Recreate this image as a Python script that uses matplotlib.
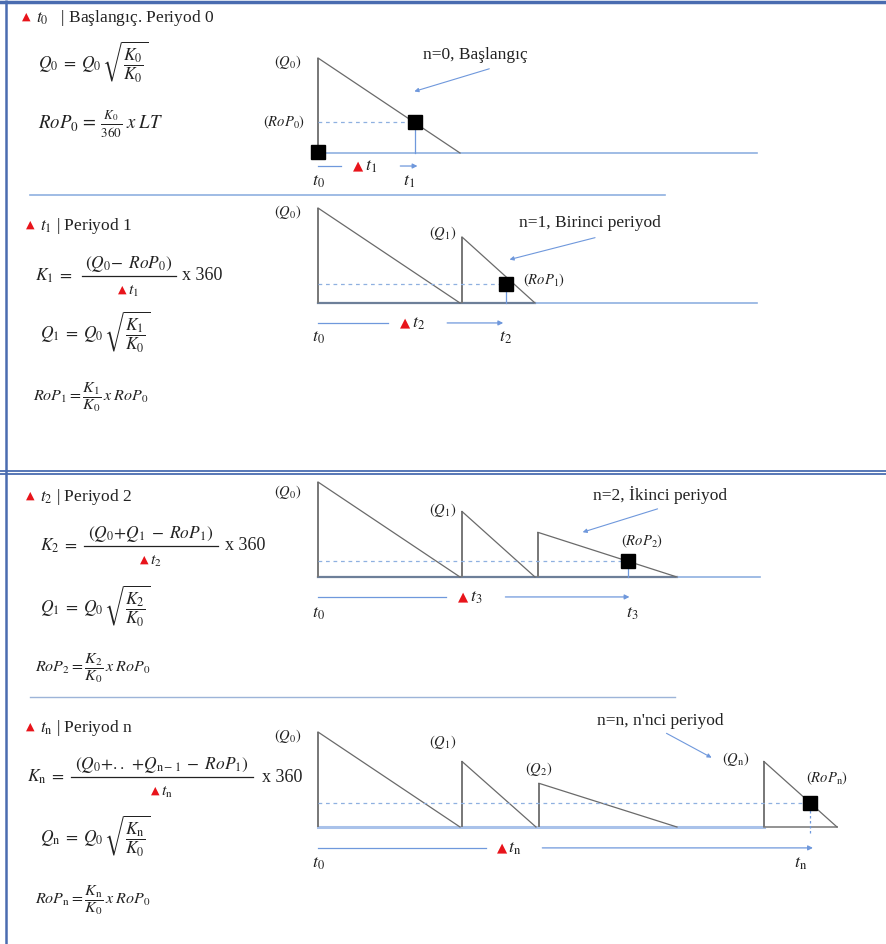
import matplotlib
matplotlib.use('Agg')
import matplotlib.pyplot as plt

plt.rcParams['mathtext.fontset'] = 'stix'
plt.rcParams['font.family'] = ['Liberation Serif', 'DejaVu Sans']

# ---------------- data (inventory units: Q0 = 100, abstract time units) ----------------
# Panel 0 : start
p0_starts = [0]
p0_peaks = [100]
p0_ends = [100]
p0_rop = 32.6
p0_t = 68.3
p0_base_end = 309

# Panel 1
p1_starts = [0, 101.4]
p1_peaks = [100, 69.5]
p1_ends = [100, 152.8]
p1_rop = 20
p1_t = 132.4
p1_base_end = 309

# Panel 2
p2_starts = [0, 101.4, 154.9]
p2_peaks = [100, 69, 47]
p2_ends = [100, 152.8, 252.8]
p2_rop = 16.8
p2_t = 218.3
p2_base_end = 311

# Panel n
pn_starts = [0, 101.4, 155.6, 314]
pn_peaks = [100, 69, 46, 69]
pn_ends = [100, 153.5, 252.8, 365.5]
pn_rop = 25
pn_t = 346.5
pn_base_end = 365.5

peak_labels_1 = [r'$(Q_0)$', r'$(Q_1)$']
peak_labels_2 = [r'$(Q_0)$', r'$(Q_1)$', None]
peak_labels_n = [r'$(Q_0)$', r'$(Q_1)$', r'$(Q_2)$', r'$(Q_\mathrm{n})$']

notes = ['n=0, Başlangıç', 'n=1, Birinci periyod', 'n=2, İkinci periyod', "n=n, n'nci periyod"]
titles = [r'$t_0$   | Başlangıç. Periyod 0', r'$t_1$ | Periyod 1', r'$t_2$ | Periyod 2',
          r'$t_\mathrm{n}$ | Periyod n']
end_labels = [r'$t_1$', r'$t_2$', r'$t_3$', r'$t_\mathrm{n}$']
mid_labels = [r'$t_1$', r'$t_2$', r'$t_3$', r'$t_\mathrm{n}$']
rop_labels = [r'$(RoP_0)$', r'$(RoP_1)$', r'$(RoP_2)$', r'$(RoP_\mathrm{n})$']

# ---------------- figure ----------------
W, H = 886, 944
fig = plt.figure(figsize=(W / 100, H / 100), dpi=100)
bg = fig.add_axes([0, 0, 1, 1])
bg.set_xlim(0, W)
bg.set_ylim(H, 0)
bg.axis('off')

BORDER = '#4a6cb0'
LBLUE = '#6f98dc'
GRAY = '#6a6a6a'

# borders
bg.plot([6, 6], [0, H], color=BORDER, lw=1.8, solid_capstyle='butt')
bg.plot([0, W], [2, 2], color=BORDER, lw=2.5)
bg.plot([0, W], [471, 471], color=BORDER, lw=1.3)
bg.plot([0, W], [474, 474], color=BORDER, lw=1.3)
bg.plot([30, 665], [195, 195], color='#8fb0e0', lw=1.2)
bg.plot([30, 675], [697, 697], color='#9db4d8', lw=1.0)

TXT = '#222222'

# ---------------- titles ----------------
title_y = [17, 225, 496, 727]
title_x = [22, 26, 26, 26]
for tx, ty, tt in zip(title_x, title_y, titles):
    bg.text(tx, ty, '▲', color='#e8141b', fontsize=8, family='DejaVu Sans', va='center', ha='left')
    bg.text(tx + 14, ty + 1, tt, fontsize=12.5, va='center', ha='left', color=TXT)

# ---------------- formulas ----------------
FS = 12.5
RFS = 11.5
# panel 0
bg.text(38, 62, r'$Q_0\;=\;Q_0\,\sqrt{\dfrac{K_0}{K_0}}$', fontsize=FS, va='center', color=TXT)
bg.text(38, 124, r'$RoP_0\,=\,\frac{K_0}{360}\;x\;LT$', fontsize=13.5, va='center', color=TXT)


def kform(x, yline, lhs, num, cx, half, den, ynum_off=12, yden_off=14, x360=None):
    bg.text(x, yline, lhs, fontsize=FS, va='center', ha='left', color=TXT)
    bg.text(cx, yline - ynum_off, num, fontsize=FS, va='center', ha='center', color=TXT)
    bg.plot([cx - half, cx + half], [yline, yline], color=TXT, lw=0.9)
    bg.text(cx - 3, yden_off + yline, '▲', color='#e8141b', fontsize=8, family='DejaVu Sans',
            va='center', ha='right')
    bg.text(cx - 1, yden_off + yline + 1, den, fontsize=11.5, va='center', ha='left', color=TXT)
    bg.text(x360, yline, 'x 360', fontsize=13, va='center', ha='left', color=TXT)


kform(35, 276, r'$K_1\;=$', r'$(Q_0\!-\;RoP_0)$', 129, 47, r'$t_1$', x360=182)
bg.text(40, 332, r'$Q_1\;=\;Q_0\,\sqrt{\dfrac{K_1}{K_0}}$', fontsize=FS, va='center', color=TXT)
bg.text(33, 397, r'$RoP_1=\dfrac{K_1}{K_0}\,x\;RoP_0$', fontsize=RFS, va='center', color=TXT)

kform(40, 546, r'$K_2\;=$', r'$(Q_0\!+\!Q_1\;-\;RoP_1)$', 151, 67, r'$t_2$', x360=225)
bg.text(40, 606, r'$Q_1\;=\;Q_0\,\sqrt{\dfrac{K_2}{K_0}}$', fontsize=FS, va='center', color=TXT)
bg.text(35, 668, r'$RoP_2=\dfrac{K_2}{K_0}\,x\;RoP_0$', fontsize=RFS, va='center', color=TXT)

kform(27, 777, r'$K_\mathrm{n}\;=$', r'$(Q_0\!+\!..\,+\!Q_{\mathrm{n}-1}\;-\;RoP_1)$', 162, 91,
      r'$t_\mathrm{n}$', x360=262)
bg.text(40, 836, r'$Q_\mathrm{n}\;=\;Q_0\,\sqrt{\dfrac{K_\mathrm{n}}{K_0}}$', fontsize=FS, va='center', color=TXT)
bg.text(35, 900, r'$RoP_\mathrm{n}=\dfrac{K_\mathrm{n}}{K_0}\,x\;RoP_0$', fontsize=RFS, va='center', color=TXT)

# ---------------- diagrams ----------------
X0, PXX, PXY = 318, 1.42, 0.95   # origin pixel x, px per time unit, px per inventory unit
AX_L, AX_R = 240, 886
UP, DOWN = 115, 45


def make_ax(yb):
    left = AX_L / W
    width = (AX_R - AX_L) / W
    bottom = 1 - (yb + DOWN) / H
    height = (UP + DOWN) / H
    ax = fig.add_axes([left, bottom, width, height])
    ax.set_xlim((AX_L - X0) / PXX, (AX_R - X0) / PXX)
    ax.set_ylim(-DOWN / PXY, UP / PXY)
    ax.axis('off')
    ax.patch.set_alpha(0)
    return ax


def sawtooth(ax, starts, peaks, ends):
    for s, p, e in zip(starts, peaks, ends):
        ax.plot([s, s], [0, p], color='#777777', lw=1.4, solid_capstyle='butt')
        ax.plot([s, e], [p, 0], color=GRAY, lw=0.9)


def time_arrow(ax, tend, yarr, center, gap, mid, endlab, ylab, endlab_x=None):
    ax.plot([0, center - gap], [yarr, yarr], color=LBLUE, lw=0.9)
    ax.annotate('', xy=(tend, yarr), xytext=(center + gap, yarr),
                arrowprops=dict(arrowstyle='-|>', color=LBLUE, lw=0.9, mutation_scale=7))
    ax.text(center - 4, yarr, '▲', color='#e8141b', fontsize=9.5, family='DejaVu Sans',
            va='center', ha='right')
    ax.text(center - 3, yarr - 1, mid, fontsize=13, va='center', ha='left', color=TXT)
    ax.text(0, ylab, r'$t_0$', fontsize=13, va='center', ha='center', color=TXT)
    ax.text(endlab_x if endlab_x is not None else tend, ylab, endlab, fontsize=13,
            va='center', ha='center', color=TXT)


def note(ax, txt, tx, ty, a0, a1):
    ax.text(tx, ty, txt, fontsize=12.5, ha='center', va='center', color=TXT)
    ax.annotate('', xy=a1, xytext=a0,
                arrowprops=dict(arrowstyle='-|>', color=LBLUE, lw=0.8, mutation_scale=6))


LABFS = 10.5

# ---- panel 0
ax = make_ax(153)
ax.plot([0, p0_base_end], [0, 0], color='#8fb0e0', lw=1.2)
sawtooth(ax, p0_starts, p0_peaks, p0_ends)
ax.plot([0, p0_t], [p0_rop, p0_rop], color='#8fb0e0', lw=0.9, ls=(0, (3, 3)))
ax.plot([p0_t, p0_t], [0, p0_rop], color=LBLUE, lw=0.9)
ax.plot([p0_starts[0]], [1.5], marker='s', ms=10, color='black')
ax.plot([p0_t], [p0_rop], marker='s', ms=10, color='black')
ax.annotate(r'$(Q_0)$', xy=(0, p0_peaks[0]), xytext=(-12, -3), textcoords='offset points',
            ha='right', va='center', fontsize=LABFS, color=TXT)
ax.annotate(rop_labels[0], xy=(0, p0_rop), xytext=(-9, 0), textcoords='offset points',
            ha='right', va='center', fontsize=LABFS, color=TXT)
note(ax, notes[0], 111, 103, (122.5, 89.5), (66, 64))
time_arrow(ax, 72, -13.7, 36, 20, mid_labels[0], end_labels[0], -30.5, endlab_x=64)

# ---- panel 1
ax = make_ax(303)
ax.plot([0, p1_ends[-1]], [0, 0], color='#6d7f99', lw=1.6)
ax.plot([p1_ends[-1], p1_base_end], [0, 0], color='#8fb0e0', lw=1.2)
sawtooth(ax, p1_starts, p1_peaks, p1_ends)
ax.plot([0, p1_t], [p1_rop, p1_rop], color='#8fb0e0', lw=0.9, ls=(0, (3, 3)))
ax.plot([p1_t, p1_t], [0, p1_rop], color=LBLUE, lw=0.9)
ax.plot([p1_t], [p1_rop], marker='s', ms=10, color='black')
for s, p, lab in zip(p1_starts, p1_peaks, peak_labels_1):
    ax.annotate(lab, xy=(s, p), xytext=(-12, -3) if s == 0 else (-4, 3), textcoords='offset points',
                ha='right', va='center', fontsize=LABFS, color=TXT)
ax.annotate(rop_labels[1], xy=(p1_t, p1_rop), xytext=(12, 3), textcoords='offset points',
            ha='left', va='center', fontsize=LABFS, color=TXT)
note(ax, notes[1], 191.5, 84, (197, 69.5), (133, 45))
time_arrow(ax, p1_t, -21, 69, 20, mid_labels[1], end_labels[1], -36)

# ---- panel 2
ax = make_ax(577)
ax.plot([0, p2_ends[-1]], [0, 0], color='#6d7f99', lw=1.6)
ax.plot([p2_ends[-1], p2_base_end], [0, 0], color='#8fb0e0', lw=1.2)
sawtooth(ax, p2_starts, p2_peaks, p2_ends)
ax.plot([0, p2_t], [p2_rop, p2_rop], color='#8fb0e0', lw=0.9, ls=(0, (3, 3)))
ax.plot([p2_t, p2_t], [0, p2_rop], color=LBLUE, lw=0.9)
ax.plot([p2_t], [p2_rop], marker='s', ms=10, color='black')
for s, p, lab in zip(p2_starts, p2_peaks, peak_labels_2):
    if lab is None:
        continue
    ax.annotate(lab, xy=(s, p), xytext=(-12, -7) if s == 0 else (-4, 1), textcoords='offset points',
                ha='right', va='center', fontsize=LABFS, color=TXT)
ax.annotate(rop_labels[2], xy=(p2_t, p2_rop), xytext=(10, 14), textcoords='offset points',
            ha='center', va='center', fontsize=LABFS, color=TXT)
note(ax, notes[2], 241, 86, (241, 72.6), (184.5, 46.3))
time_arrow(ax, p2_t + 3, -21, 110, 20, mid_labels[2], end_labels[2], -38)

# ---- panel n
ax = make_ax(827)
ax.plot([0, pn_starts[-1]], [0, 0], color='#a9c2ea', lw=2.2)
ax.plot([pn_starts[-1], pn_base_end], [0, 0], color='#8a8a8a', lw=1.3)
sawtooth(ax, pn_starts, pn_peaks, pn_ends)
ax.plot([0, pn_t], [pn_rop, pn_rop], color='#8fb0e0', lw=0.9, ls=(0, (3, 3)))
ax.plot([pn_t, pn_t], [-6, pn_rop], color=LBLUE, lw=0.9, ls=(0, (2, 2)))
ax.plot([pn_t], [pn_rop], marker='s', ms=10, color='black')
offs_n = [(-12, -3), (-14, 14), (0, 10), (-20, 2)]
has_n = ['right', 'center', 'center', 'center']
for s, p, lab, off, ha in zip(pn_starts, pn_peaks, peak_labels_n, offs_n, has_n):
    ax.annotate(lab, xy=(s, p), xytext=off, textcoords='offset points',
                ha=ha, va='center', fontsize=LABFS, color=TXT)
ax.annotate(rop_labels[3], xy=(pn_t, pn_rop), xytext=(12, 18), textcoords='offset points',
            ha='center', va='center', fontsize=LABFS, color=TXT)
note(ax, notes[3], 241, 111.6, (243.7, 100), (278.9, 71.6))
time_arrow(ax, pn_t + 4, -22, 137, 19, mid_labels[3], end_labels[3], -38, endlab_x=340)

fig.savefig('out.png', dpi=100)
